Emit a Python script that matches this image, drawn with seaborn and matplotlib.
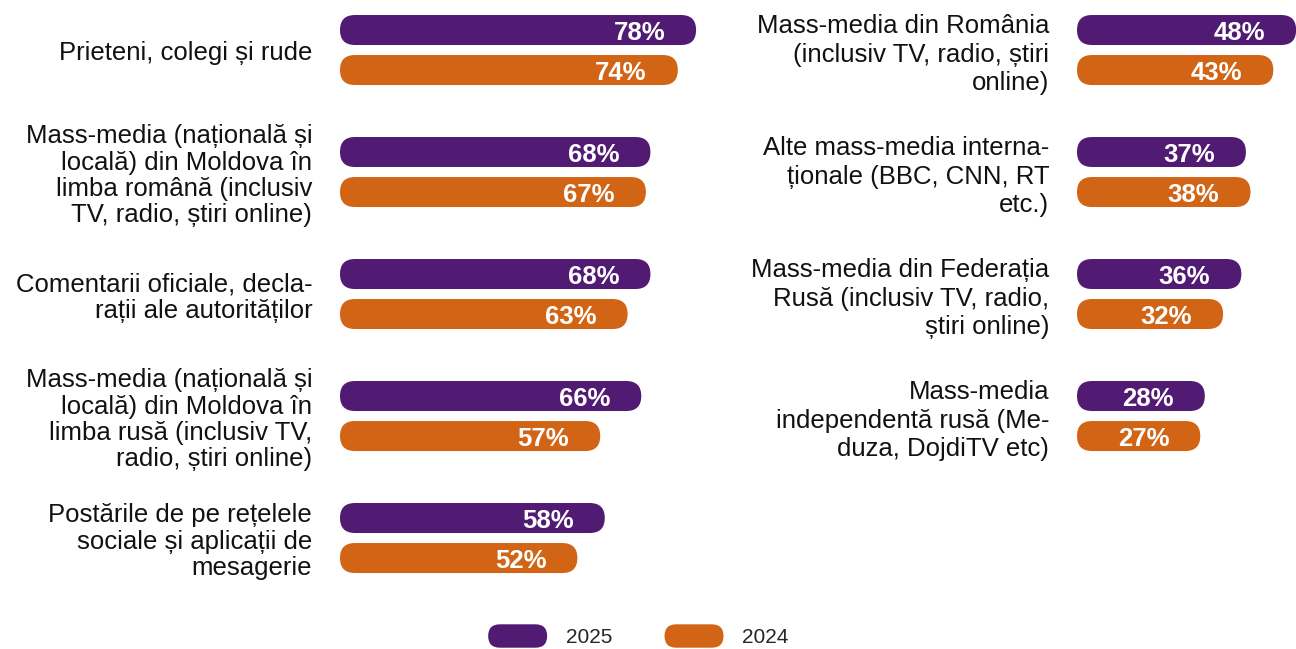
import pandas as pd
import matplotlib.pyplot as plt
import seaborn as sns
from matplotlib.patches import FancyBboxPatch
from matplotlib.legend_handler import HandlerPatch

# Date
categorii_st = [
    'Prieteni, colegi și rude',
    'Mass-media (națională și\nlocală) din Moldova în\nlimba română (inclusiv\nTV, radio, știri online)',
    'Comentarii oficiale, decla-\nrații ale autorităților',
    'Mass-media (națională și\nlocală) din Moldova în\nlimba rusă (inclusiv TV,\nradio, știri online)',
    'Postările de pe rețelele\nsociale și aplicații de\nmesagerie',
]
valori_st_2025 = [78, 68, 68, 66, 58]
valori_st_2024 = [74, 67, 63, 57, 52]

categorii_dr = [
    'Mass-media din România\n(inclusiv TV, radio, știri\nonline)',
    'Alte mass-media interna-\nționale (BBC, CNN, RT\netc.)',
    'Mass-media din Federația\nRusă (inclusiv TV, radio,\nștiri online)',
    'Mass-media\nindependentă rusă (Me-\nduza, DojdiTV etc)',
]
valori_dr_2025 = [48, 37, 36, 28]
valori_dr_2024 = [43, 38, 32, 27]

ani = ['2025', '2024']
culori = {'2025': '#511a73', '2024': '#d26416'}

sns.set_style('white')
plt.rcParams['font.family'] = ['Liberation Sans', 'DejaVu Sans']

W, H = 1296, 649
fig = plt.figure(figsize=(W / 100, H / 100), dpi=100)


def tabel(categorii, v2025, v2024):
    return pd.DataFrame({
        'categorie': categorii * 2,
        'an': ['2025'] * len(categorii) + ['2024'] * len(categorii),
        'valoare': v2025 + v2024,
    })


def panou(left_px, categorii, v2025, v2024, spatiere):
    ax = fig.add_axes([left_px / W, 39 / H, 456.5 / W, 610 / H])
    df = tabel(categorii, v2025, v2024)
    sns.barplot(data=df, y='categorie', x='valoare', hue='an', order=categorii,
                hue_order=ani, palette=culori, width=0.656, gap=0.25,
                orient='h', legend=False, errorbar=None, ax=ax)
    ax.set_xlim(0, 100)
    ax.set_ylim(4.59, -0.41)
    sns.despine(ax=ax, left=True, bottom=True)
    ax.set_xlabel('')
    ax.set_ylabel('')
    ax.set_xticks([])
    ax.tick_params(axis='y', length=0, pad=20, labelsize=18.5, labelcolor='#111111')
    for lbl in ax.get_yticklabels():
        lbl.set_linespacing(spatiere)

    # bare rotunjite
    px_x = 100 / (456.5)
    px_y = 5.0 / 610
    aspect = px_y / px_x
    for cont, an in zip(ax.containers, ani):
        for rect in cont.patches:
            x, y = rect.get_x(), rect.get_y()
            w, h = rect.get_width(), rect.get_height()
            rect.set_visible(False)
            r = 15 * px_x
            p = FancyBboxPatch((x, y), w, h,
                               boxstyle=f'round,pad=0,rounding_size={r}',
                               mutation_aspect=aspect, fc=culori[an], ec='none')
            ax.add_patch(p)
            ax.annotate(f'{w:.0f}%', xy=(x + w, y + h / 2), xytext=(-31, 0),
                        textcoords='offset pixels', ha='right', va='center_baseline',
                        color='white', fontsize=18.5, fontweight='bold')
    return ax


panou(340, categorii_st, valori_st_2025, valori_st_2024, 1.13)
panou(1077, categorii_dr, valori_dr_2025, valori_dr_2024, 1.22)


class HandlerPastila(HandlerPatch):
    def create_artists(self, legend, orig_handle, xdescent, ydescent,
                       width, height, fontsize, trans):
        p = FancyBboxPatch((-xdescent, -ydescent), width, height,
                           boxstyle=f'round,pad=0,rounding_size={height / 2}',
                           fc=orig_handle.get_facecolor(), ec='none',
                           transform=trans)
        return [p]


handles = [FancyBboxPatch((0, 0), 1, 1, fc=culori[a]) for a in ani]
fig.legend(handles, ani, loc='center', bbox_to_anchor=(638.5 / W, 13 / H),
           ncol=2, frameon=False, fontsize=15, handlelength=2.83,
           handleheight=1.35, handletextpad=0.91, columnspacing=2.5,
           handler_map={FancyBboxPatch: HandlerPastila()})

plt.savefig('out.png', dpi=100)
